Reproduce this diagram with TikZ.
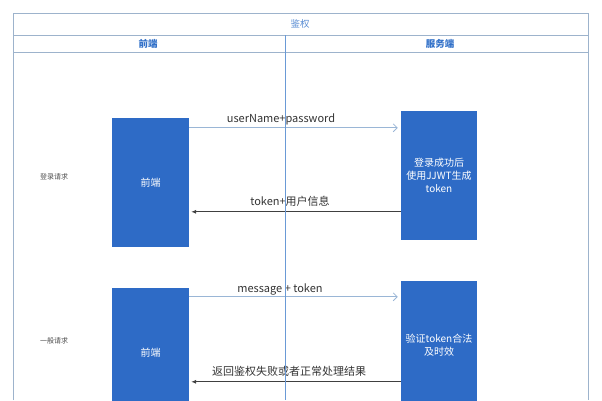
\documentclass[tikz,border=0pt]{standalone}
\usepackage{fontspec}
\setmainfont{Noto Sans CJK SC}
\usetikzlibrary{arrows.meta,positioning}
\definecolor{framec}{HTML}{9DB3CC}
\definecolor{lanec}{HTML}{6A9AD6}
\definecolor{boxc}{HTML}{2E6BC6}
\definecolor{headc}{HTML}{3170C8}
\definecolor{reqc}{HTML}{9AB6D6}
\tikzset{
	block/.style={fill=boxc,minimum width=77pt,minimum height=129pt,inner sep=0pt,
		text=white,align=center,font=\fontsize{10}{13}\selectfont},
	req/.style={draw=reqc,line width=0.8pt,-{Straight Barb[length=4pt,width=8pt]},shorten >=3pt},
	resp/.style={draw=black!75,line width=0.8pt,-{Latex[length=5pt,width=4pt]},shorten >=2pt},
	msg/.style={font=\fontsize{11}{13}\selectfont,text=black!80},
	lanetext/.style={font=\fontsize{7}{9}\selectfont,text=black!70},
	head/.style={font=\fontsize{9.5}{11}\selectfont,text=headc}
}
\begin{document}
\begin{tikzpicture}[x=1pt,y=-1pt]
	\useasboundingbox (0,0) rectangle (602,400);
	% swimlane frame
	\draw[framec,line width=0.9pt] (13,400) -- (13,13) -- (588,13) -- (588,400);
	\draw[framec,line width=0.9pt] (13,35) -- (588,35);
	\draw[framec,line width=0.9pt] (13,52) -- (588,52);
	\node[head,text=headc!80] (title) at (300,24) {鉴权};
	\node[head,font=\bfseries\fontsize{9.5}{11}\selectfont] (front) at (148,44) {前端};
	\node[head,font=\bfseries\fontsize{9.5}{11}\selectfont] (server) at (440,44) {服务端};
	% login
	\node[lanetext] (login) at (54,177) {登录请求};
	\node[block] (frontA) at (150.5,182.5) {前端};
	\node[block,minimum width=76pt] (serverA) at (439,175.5) {登录成功后\\使用JJWT生成\\token};
	\draw[req] ([yshift=-10pt]frontA.north east) -- ([yshift=-10pt]frontA.north east -| serverA.west);
	\draw[resp] ([yshift=-101pt]serverA.north west) -- ([yshift=-101pt]serverA.north west -| frontA.east);
	\node[msg] (userpw) at (281,119) {userName+password};
	\node[msg] (tokeninfo) at (290,201) {token+用户信息};
	% normal request
	\node[lanetext] (normal) at (54,341) {一般请求};
	\node[block] (frontB) at (150.5,352.5) {前端};
	\node[block,minimum width=76pt] (serverB) at (439,345.5) {验证token合法\\及时效};
	\draw[req] ([yshift=-9pt]frontB.north east) -- ([yshift=-9pt]frontB.north east -| serverB.west);
	\draw[resp] ([yshift=-101pt]serverB.north west) -- ([yshift=-101pt]serverB.north west -| frontB.east);
	\node[msg] (msgtoken) at (280,289) {message + token};
	\node[msg] (result) at (289,371) {返回鉴权失败或者正常处理结果};
	% lane divider
	\draw[lanec,line width=1pt] (285,35) -- (285,400);
\end{tikzpicture}
\end{document}
